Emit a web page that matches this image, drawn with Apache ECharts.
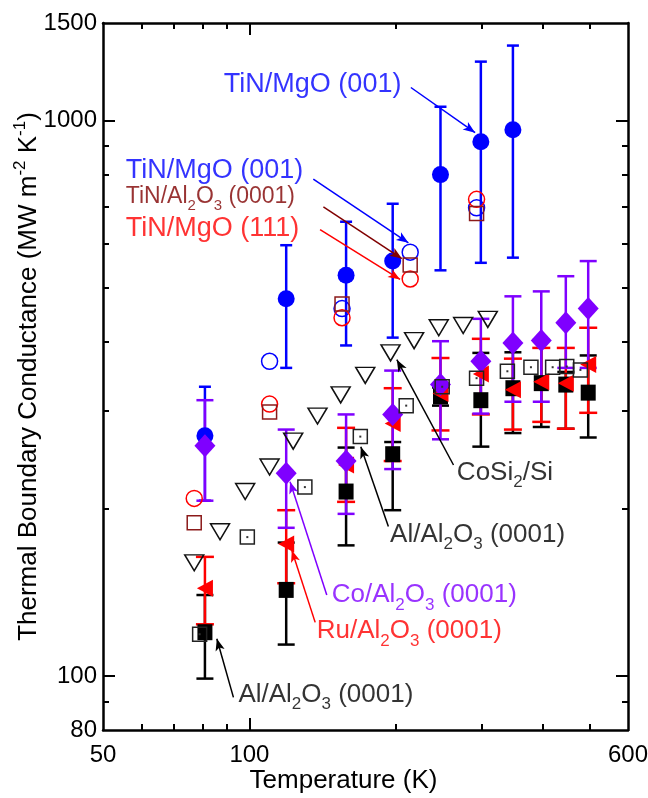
<!DOCTYPE html>
<html>
<head>
<meta charset="utf-8">
<script src="https://cdn.jsdelivr.net/npm/echarts@6/dist/echarts.min.js"></script>
<style>
html, body { margin: 0; padding: 0; background: #fff; }
#chart { width: 648px; height: 798px; }
</style>
</head>
<body>
<div id="chart"></div>
<script>
// temperatures (K) of the film series
var temps = [81, 119, 158, 197, 247, 299, 348, 398, 447, 497];

// TiN/MgO (001), filled blue circles
var tinT = [81, 119, 158, 197, 247, 299, 348];
var tinMgo = [271, 478, 527, 559, 800, 917, 964];
var tinMgoLo = [207, 359, 394, 407, 538, 555, 567];
var tinMgoHi = [332, 597, 658, 709, 1060, 1278, 1366];

// Co/Al2O3 (0001), purple diamonds
var coAl = [260, 232, 244, 296, 335, 369, 398, 402, 433, 459];
var coAlLo = [207, 185, 196, 236, 267, 297, 312, 312, 359, 359];
var coAlHi = [314, 278, 296, 355, 401, 440, 483, 493, 525, 559];

// Ru/Al2O3 (0001), red triangles
var ruAl = [144, 173, 240, 285, 323, 350, 328, 339, 337, 364];
var ruAlLo = [124, 147, 206, 244, 277, 296, 278, 287, 279, 298];
var ruAlHi = [164, 199, 280, 330, 374, 405, 373, 390, 390, 424];

// Al/Al2O3 (0001), black squares
var alAl = [120, 143, 215, 251, 319, 314, 330, 337, 335, 324];
var alAlLo = [99, 114, 172, 199, 307, 259, 274, 281, 279, 269];
var alAlHi = [140, 174, 258, 264, 331, 382, 383, 403, 353, 378];

// CoSi2/Si, open triangles
var cosiT = [77, 87, 98, 110, 123, 138, 154, 173, 195, 218, 245, 275, 309];
var cosi = [160, 182, 215, 238, 265, 294, 321, 348, 382, 402, 424, 428, 439];

// Al/Al2O3 (0001), open squares
var alOpenT = [79, 99, 130, 169, 210, 249, 293, 339, 379, 420, 449, 479];
var alOpen = [119, 178, 219, 270, 307, 332, 344, 354, 360, 360, 361, 356];

// open symbols: TiN/MgO (001), TiN/MgO (111), TiN/Al2O3 (0001)
var tin001OpenT = [110, 155, 214, 293];
var tin001Open = [369, 459, 580, 697];
var tinOpenT = [77, 110, 155, 214, 293];
var tin111Open = [209, 309, 442, 519, 722];
var tinAlOpen = [189, 299, 468, 550, 681];

// axis ticks and labels
var xLabels = [50, 100, 600];
var xMajor = [100];
var xMinor = [60, 70, 80, 90, 200, 300, 400, 500];
var yLabels = [80, 100, 1000, 1500];
var yMajor = [100, 1000];
var yMinor = [90, 200, 300, 400, 500, 600, 700, 800, 900];

var FONT = '"Liberation Sans", Arial, sans-serif';
var BLUE = '#0000ff', PURPLE = '#7f00ff', RED = '#ff0000', DARKRED = '#800000', BLACK = '#000';

// annotations: text, anchor (left/middle) and arrow in data coords
var notes = [
  {text: 'TiN/MgO (001)', at: [88.6, 1161], color: BLUE, size: 27, from: [214.7, 1148], to: [291, 952]},
  {text: 'TiN/MgO (001)', at: [55.7, 812], color: BLUE, size: 27, from: [135.3, 785], to: [212.2, 603]},
  {text: 'TiN/Al{s|2}O{s|3} (0001)', at: [55.7, 729], color: DARKRED, size: 23, from: [141.9, 700], to: [205.7, 565]},
  {text: 'TiN/MgO (111)', at: [55.7, 641], color: RED, size: 27, from: [139.7, 637], to: [204, 518]},
  {text: 'CoSi{s|2}/Si', at: [266.9, 232.5], color: BLACK, size: 26, from: [262.7, 240], to: [200.9, 371.5]},
  {text: 'Al/Al{s|2}O{s|3} (0001)', at: [194.6, 180], color: BLACK, size: 26, from: [193, 186], to: [169.4, 259]},
  {text: 'Co/Al{s|2}O{s|3} (0001)', at: [147.6, 140], color: PURPLE, size: 26, from: [144.2, 140], to: [121.2, 224]},
  {text: 'Ru/Al{s|2}O{s|3} (0001)', at: [137.5, 120.6], color: RED, size: 26, from: [136.5, 125], to: [122.2, 168.6]},
  {text: 'Al/Al{s|2}O{s|3} (0001)', at: [94.9, 92.6], color: BLACK, size: 26, from: [92.7, 91.6], to: [85.7, 116.8]}
];

function pairs(xs, ys) {
  return xs.map(function (x, i) { return [x, ys[i]]; });
}

function errBars(xs, lo, hi, color, cap) {
  return {
    type: 'custom',
    silent: true,
    renderItem: function (params, api) {
      var a = api.coord([api.value(0), api.value(1)]);
      var b = api.coord([api.value(0), api.value(2)]);
      var st = {stroke: color, lineWidth: 2.5};
      return {
        type: 'group',
        children: [
          {type: 'line', shape: {x1: a[0], y1: a[1], x2: b[0], y2: b[1]}, style: st},
          {type: 'line', shape: {x1: a[0] - cap / 2, y1: a[1], x2: a[0] + cap / 2, y2: a[1]}, style: st},
          {type: 'line', shape: {x1: b[0] - cap / 2, y1: b[1], x2: b[0] + cap / 2, y2: b[1]}, style: st}
        ]
      };
    },
    encode: {x: 0, y: [1, 2]},
    data: xs.map(function (x, i) { return [x, lo[i], hi[i]]; })
  };
}

function dots(xs, ys, symbol, size, fill, stroke, rotate) {
  return {
    type: 'scatter',
    silent: true,
    symbol: symbol,
    symbolSize: size,
    symbolRotate: rotate || 0,
    itemStyle: {color: fill, borderColor: stroke || fill, borderWidth: stroke ? 1.5 : 0, opacity: 1},
    data: pairs(xs, ys)
  };
}

function fmt(v) { return String(Math.round(v)); }

function xAxis(position, ticks, len, labels, line) {
  var ax = {
    type: 'log', logBase: 10, min: 50, max: 600, position: position,
    axisLine: {show: line, onZero: false, lineStyle: {color: BLACK, width: 2.5}},
    axisTick: {show: true, inside: true, length: len, customValues: ticks, lineStyle: {color: BLACK, width: 2}},
    axisLabel: {show: false},
    splitLine: {show: false}
  };
  if (labels) {
    ax.axisLabel = {show: true, customValues: labels, formatter: fmt, fontSize: 24, color: BLACK, fontFamily: FONT, margin: 13};
  }
  return ax;
}

function yAxis(position, ticks, len, labels, line) {
  var ax = {
    type: 'log', logBase: 10, min: 80, max: 1500, position: position,
    axisLine: {show: line, onZero: false, lineStyle: {color: BLACK, width: 2.5}},
    axisTick: {show: true, inside: true, length: len, customValues: ticks, lineStyle: {color: BLACK, width: 2}},
    axisLabel: {show: false},
    splitLine: {show: false}
  };
  if (labels) {
    ax.axisLabel = {show: true, customValues: labels, formatter: fmt, fontSize: 24, color: BLACK, fontFamily: FONT, margin: 6};
  }
  return ax;
}

var xAxes = [
  xAxis('bottom', xMajor, 12, xLabels, true),
  xAxis('bottom', xMinor, 6, null, false),
  xAxis('top', xMajor, 12, null, true),
  xAxis('top', xMinor, 6, null, false)
];
xAxes[0].name = 'Temperature (K)';
xAxes[0].nameLocation = 'middle';
xAxes[0].nameGap = 36;
xAxes[0].nameMoveOverlap = false;
xAxes[0].nameTextStyle = {fontSize: 26, lineHeight: 30, color: BLACK, fontFamily: FONT, padding: [0, 44, 0, 0]};

var yAxes = [
  yAxis('left', yMajor, 12, yLabels, true),
  yAxis('left', yMinor, 6, null, false),
  yAxis('right', yMajor, 12, null, true),
  yAxis('right', yMinor, 6, null, false)
];
yAxes[0].name = 'Thermal Boundary Conductance (MW m{sup|-2} K{sup|-1})';
yAxes[0].nameLocation = 'middle';
yAxes[0].nameGap = 57;
yAxes[0].nameMoveOverlap = false;
yAxes[0].nameTextStyle = {
  fontSize: 26, color: BLACK, fontFamily: FONT, lineHeight: 34,
  rich: {sup: {fontSize: 17, fontFamily: FONT, color: BLACK, verticalAlign: 'top', lineHeight: 17}}
};

var series = [
  errBars(tinT, tinMgoLo, tinMgoHi, BLUE, 12),
  dots(tinT, tinMgo, 'circle', 17, BLUE),
  errBars(temps, alAlLo, alAlHi, BLACK, 17),
  errBars(temps, ruAlLo, ruAlHi, RED, 18),
  errBars(temps, coAlLo, coAlHi, PURPLE, 17),
  dots(temps, alAl, 'rect', [15, 16], BLACK),
  dots(temps, ruAl, 'triangle', [17, 16], RED, null, 90),
  dots(temps, coAl, 'diamond', [21, 23], PURPLE),
  dots(tin001OpenT, tin001Open, 'circle', 16, 'none', BLUE),
  dots(tinOpenT, tin111Open, 'circle', 16, 'none', RED),
  dots(tinOpenT, tinAlOpen, 'rect', 14, 'none', '#8b1a1a'),
  dots(alOpenT, alOpen, 'rect', 14, 'none', '#222'),
  dots(alOpenT, alOpen, 'rect', 2, '#333'),
  dots(cosiT, cosi, 'triangle', [19, 16], 'none', '#111', 180)
];

// annotation texts and arrows
series.push({
  type: 'scatter',
  silent: true,
  symbol: 'circle',
  symbolSize: 1,
  itemStyle: {color: 'rgba(0,0,0,0)'},
  z: 10,
  data: notes.map(function (n) {
    var sub = Math.round(n.size * 0.66);
    var lh = Math.round(n.size * 1.42);
    return {
      value: n.at,
      label: {
        show: true, position: 'inside', align: 'left', verticalAlign: 'middle',
        formatter: n.text, color: n.color, fontSize: n.size, fontFamily: FONT, lineHeight: lh,
        rich: {s: {fontSize: sub, color: n.color, fontFamily: FONT, verticalAlign: 'bottom', lineHeight: sub}}
      }
    };
  }),
  markLine: {
    silent: true,
    animation: false,
    label: {show: false},
    symbol: ['none', 'arrow'],
    symbolSize: [7, 12],
    data: notes.map(function (n) {
      return [
        {coord: n.from, lineStyle: {color: n.color, width: 1.5, type: 'solid'}},
        {coord: n.to}
      ];
    })
  }
});

var chart = echarts.init(document.getElementById('chart'));
chart.setOption({
  animation: false,
  backgroundColor: '#fff',
  textStyle: {fontFamily: FONT},
  grid: {left: 103, right: 20, top: 23, bottom: 68, containLabel: false, outerBoundsMode: 'none'},
  xAxis: xAxes,
  yAxis: yAxes,
  series: series
});
</script>
</body>
</html>
